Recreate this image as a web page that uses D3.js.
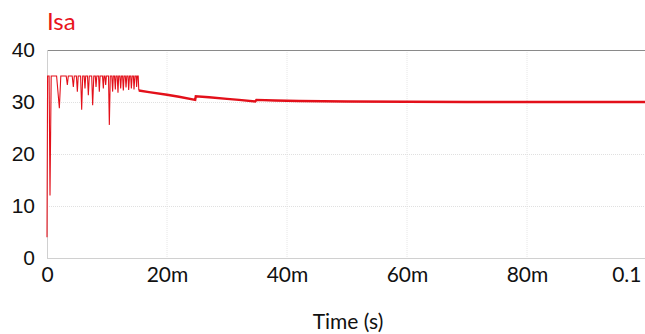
<!DOCTYPE html>
<html><head><meta charset="utf-8">
<script src="https://cdn.jsdelivr.net/npm/d3@7"></script>
<style>body{margin:0;background:#fff}svg{display:block}</style>
</head><body>
<svg id="c" width="645" height="334"></svg>
<script>
// ---- data ----
const title = "Isa";
const xTickValues = [0, 0.02, 0.04, 0.06, 0.08, 0.1];
const xTickLabels = ["0", "20m", "40m", "60m", "80m", "0.1"];
const yTickValues = [0, 10, 20, 30, 40];
// transient part (time in ms, current in A)
const tTransient = [0, 0.1, 0.35, 0.5, 0.7, 1.6, 2.06, 2.3, 3.2, 3.39, 3.55, 4.2, 4.39, 4.55, 4.9, 5.06, 5.2, 5.6, 5.78, 5.95, 6.2, 6.33, 6.45, 6.75, 6.89, 7.05, 7.45, 7.61, 7.8, 8.05, 8.17, 8.3, 8.6, 8.72, 8.85, 9.25, 9.39, 9.5, 9.65, 9.78, 9.9, 10.25, 10.39, 10.55, 10.8, 10.94, 11.05, 11.25, 11.39, 11.5, 11.7, 11.83, 11.95, 12.15, 12.28, 12.4, 12.6, 12.72, 12.85, 13.05, 13.17, 13.3, 13.5, 13.61, 13.75, 13.95, 14.06, 14.2, 14.4, 14.5, 14.65, 14.85, 14.94, 15.05, 15.2, 15.3];
const iTransient = [4, 35, 35, 12, 35, 35, 28.8, 35, 35, 33.3, 35, 35, 32.9, 35, 35, 32.0, 35, 35, 28.5, 35, 35, 32.6, 35, 35, 31.3, 35, 35, 29.4, 35, 35, 32.9, 35, 35, 32.0, 35, 35, 32.6, 35, 35, 33.3, 35, 35, 25.6, 35, 35, 32.0, 35, 35, 32.4, 35, 35, 31.8, 35, 35, 32.6, 35, 35, 32.2, 35, 35, 32.8, 35, 35, 32.3, 35, 35, 32.6, 35, 35, 32.4, 35, 35, 32.9, 35, 35, 32.2];
// settling / steady part
const tSteady = [15.3, 17, 20, 22, 24.7, 24.8, 27, 30, 32, 34.7, 34.9, 38, 42, 50, 60, 70, 80, 90, 100];
const iSteady = [32.2, 31.9, 31.4, 31.0, 30.4, 31.1, 30.9, 30.6, 30.4, 30.1, 30.4, 30.3, 30.2, 30.1, 30.05, 30.0, 30.0, 30.0, 30.0];

// ---- chart ----
const svg = d3.select("#c");
const W = 645, H = 334;
const m = {left: 47, top: 50, bottom: 258};
const x = d3.scaleLinear().domain([0, 0.1]).range([47, 647]);
const y = d3.scaleLinear().domain([0, 40]).range([258, 50]);

// gridlines
svg.append("g").selectAll("line").data(xTickValues.slice(1, 5)).join("line")
  .attr("x1", d => x(d)).attr("x2", d => x(d)).attr("y1", y(40)).attr("y2", y(0))
  .attr("stroke", "#e6e6e6").attr("stroke-dasharray", "1,1").attr("stroke-width", 1);
svg.append("g").selectAll("line").data([10, 20, 30]).join("line")
  .attr("x1", x(0)).attr("x2", W).attr("y1", d => Math.round(y(d)) + 0.5).attr("y2", d => Math.round(y(d)) + 0.5)
  .attr("stroke", "#e0e0e0").attr("stroke-dasharray", "1,1").attr("stroke-width", 1);

// frame
svg.append("line").attr("x1", x(0)).attr("x2", W).attr("y1", 50.5).attr("y2", 50.5).attr("stroke", "#8a8a8a");
svg.append("line").attr("x1", x(0)).attr("x2", W).attr("y1", 258.5).attr("y2", 258.5).attr("stroke", "#d0d0d0");
svg.append("line").attr("x1", 47.5).attr("x2", 47.5).attr("y1", 50).attr("y2", 258).attr("stroke", "#d0d0d0");

// axes labels
const yAxis = d3.axisLeft(y).tickValues(yTickValues).tickSize(0).tickPadding(12).tickFormat(d3.format("d"));
const gy = svg.append("g").attr("transform", "translate(47,0)").call(yAxis);
gy.select(".domain").remove();
gy.selectAll("text").attr("font-family", "Liberation Sans, Arial, sans-serif").attr("font-size", 21).attr("fill", "#111");

const xAxis = d3.axisBottom(x).tickValues(xTickValues).tickSize(0).tickPadding(9)
  .tickFormat((d, i) => xTickLabels[i]);
const gx = svg.append("g").attr("transform", "translate(0,258)").call(xAxis);
gx.select(".domain").remove();
gx.selectAll("text").attr("font-family", "Lato, sans-serif").attr("font-size", 21).attr("fill", "#111");
gx.selectAll(".tick").filter(d => d === 0.1).select("text").attr("text-anchor", "end").attr("dx", -2).attr("x", -2 - 0)
  .attr("transform", "translate(-2,0)");

svg.append("text").attr("x", 348).attr("y", 329).attr("text-anchor", "middle")
  .attr("font-family", "Lato, sans-serif").attr("font-size", 21).attr("fill", "#111").text("Time (s)");

svg.append("text").attr("x", 47).attr("y", 30).attr("font-family", "Lato, sans-serif")
  .attr("font-size", 24).attr("fill", "#e8141c").text(title);

// lines
const line = d3.line().x(d => x(d[0] / 1000)).y(d => y(d[1]));
svg.append("path").datum(tTransient.map((t, i) => [t, iTransient[i]]))
  .attr("d", line).attr("fill", "none").attr("stroke", "#e3101a").attr("stroke-width", 1.1);
svg.append("path").datum(tSteady.map((t, i) => [t, iSteady[i]]))
  .attr("d", line).attr("fill", "none").attr("stroke", "#e3101a").attr("stroke-width", 2.4);
</script>
</body></html>
